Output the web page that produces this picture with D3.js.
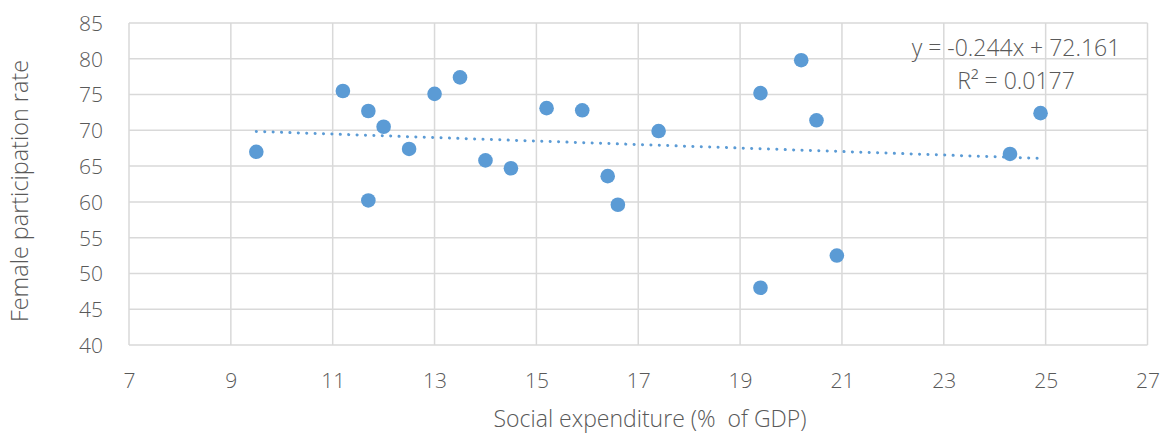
<!DOCTYPE html>
<html>
<head>
<meta charset="utf-8">
<script src="https://cdn.jsdelivr.net/npm/d3@7"></script>
<style>
  html, body { margin: 0; padding: 0; background: #fff; }
  text { font-family: "Open Sans", "Liberation Sans", sans-serif; font-weight: 300; fill: #595959; white-space: pre; }
</style>
</head>
<body>
<svg id="chart" width="1166" height="433"></svg>
<script>
// Data
const socialExpenditure = [9.5, 11.2, 11.7, 11.7, 12.0, 12.5, 13.0, 13.5, 14.0, 14.5, 15.2, 15.9, 16.4, 16.6, 17.4, 19.4, 19.4, 20.2, 20.5, 20.9, 24.3, 24.9];
const femaleParticipation = [67.0, 75.5, 72.7, 60.2, 70.5, 67.4, 75.1, 77.4, 65.8, 64.7, 73.1, 72.8, 63.6, 59.6, 69.9, 75.2, 48.0, 79.8, 71.4, 52.5, 66.7, 72.4];
const xTicks = [7, 9, 11, 13, 15, 17, 19, 21, 23, 25, 27];
const yTicks = [40, 45, 50, 55, 60, 65, 70, 75, 80, 85];
const trendSlope = -0.244;
const trendIntercept = 72.161;
const equationLabel = "y = -0.244x + 72.161";
const r2Label = "R² = 0.0177";
const xTitle = "Social expenditure (%  of GDP)";
const yTitle = "Female participation rate";

const svg = d3.select("#chart");
const pLeft = 129, pRight = 1147.5, pTop = 23, pBottom = 345;

const x = d3.scaleLinear().domain([7, 27]).range([pLeft, pRight]);
const y = d3.scaleLinear().domain([40, 85]).range([pBottom, pTop]);

// Gridlines
const grid = svg.append("g");
grid.selectAll("line.v").data(xTicks).enter().append("line")
  .attr("x1", d => x(d)).attr("x2", d => x(d))
  .attr("y1", pTop).attr("y2", pBottom)
  .attr("stroke", "#d9d9d9").attr("stroke-width", 1.5);
grid.selectAll("line.h").data(yTicks).enter().append("line")
  .attr("x1", pLeft).attr("x2", pRight)
  .attr("y1", d => y(d)).attr("y2", d => y(d))
  .attr("stroke", "#d9d9d9").attr("stroke-width", 1.5);

// Axes (labels only)
const xAxis = d3.axisBottom(x).tickValues(xTicks).tickSize(0).tickPadding(0).tickFormat(d3.format("d"));
const gx = svg.append("g").attr("transform", `translate(0,${pBottom})`).call(xAxis);
gx.select(".domain").remove();
gx.selectAll("text").attr("dy", null).attr("y", 43).style("font-size", "21px").attr("fill", "#595959");

const yAxis = d3.axisLeft(y).tickValues(yTicks).tickSize(0).tickPadding(0).tickFormat(d3.format("d"));
const gy = svg.append("g").attr("transform", `translate(${pLeft},0)`).call(yAxis);
gy.select(".domain").remove();
gy.selectAll("text").attr("x", -26).attr("dy", "0.35em").style("font-size", "21px").attr("fill", "#595959");
svg.selectAll("g").attr("font-family", null).attr("font-size", null);

// Trendline
const xMin = d3.min(socialExpenditure), xMax = d3.max(socialExpenditure);
const trend = [xMin, xMax].map(v => [v, trendSlope * v + trendIntercept]);
svg.append("path")
  .datum(trend)
  .attr("d", d3.line().x(d => x(d[0])).y(d => y(d[1])))
  .attr("fill", "none")
  .attr("stroke", "#5b9bd5")
  .attr("stroke-width", 3)
  .attr("stroke-linecap", "round")
  .attr("stroke-dasharray", "0.1 8.3");

// Points
const pts = socialExpenditure.map((v, i) => [v, femaleParticipation[i]]);
svg.append("g").selectAll("circle").data(pts).enter().append("circle")
  .attr("cx", d => x(d[0])).attr("cy", d => y(d[1]))
  .attr("r", 7.3)
  .attr("fill", "#5b9bd5");

// Equation label
svg.append("text").attr("x", 1016).attr("y", 56).attr("text-anchor", "middle")
  .style("font-size", "23px").text(equationLabel);
svg.append("text").attr("x", 1016).attr("y", 89).attr("text-anchor", "middle")
  .style("font-size", "23px").text(r2Label);

// Axis titles
svg.append("text").attr("x", 650).attr("y", 427).attr("text-anchor", "middle")
  .style("font-size", "23px").text(xTitle);
svg.append("text").attr("transform", `translate(28,191) rotate(-90)`).attr("text-anchor", "middle")
  .style("font-size", "23.4px").text(yTitle);
</script>
</body>
</html>
